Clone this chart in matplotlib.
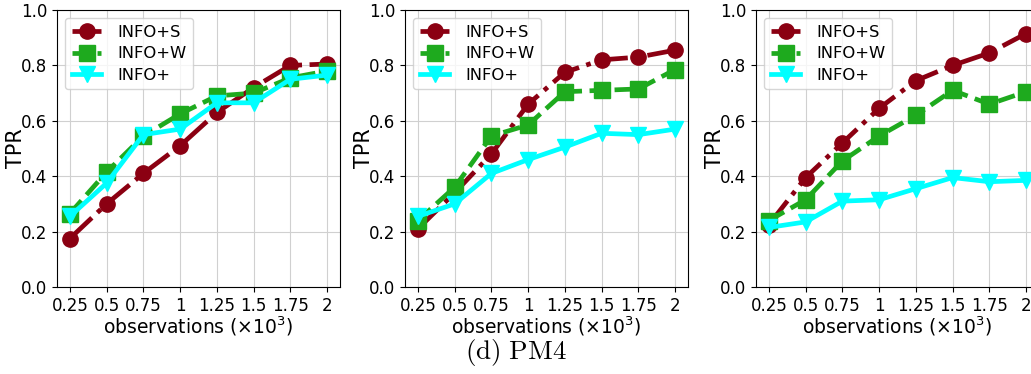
import matplotlib
matplotlib.use("Agg")
import matplotlib.pyplot as plt

# observations (x10^3)
obs = [0.25, 0.5, 0.75, 1, 1.25, 1.5, 1.75, 2]
obs_labels = ['0.25', '0.5', '0.75', '1', '1.25', '1.5', '1.75', '2']

# TPR per panel
info_s_1 = [0.175, 0.30, 0.41, 0.51, 0.63, 0.72, 0.80, 0.805]
info_w_1 = [0.265, 0.415, 0.545, 0.625, 0.69, 0.70, 0.755, 0.78]
info_1 = [0.255, 0.375, 0.55, 0.57, 0.665, 0.665, 0.75, 0.765]

info_s_2 = [0.21, 0.34, 0.48, 0.66, 0.775, 0.82, 0.83, 0.855]
info_w_2 = [0.24, 0.36, 0.545, 0.585, 0.705, 0.71, 0.715, 0.785]
info_2 = [0.255, 0.30, 0.41, 0.46, 0.505, 0.555, 0.55, 0.57]

info_s_3 = [0.225, 0.395, 0.52, 0.645, 0.745, 0.80, 0.845, 0.915]
info_w_3 = [0.24, 0.315, 0.455, 0.545, 0.62, 0.71, 0.66, 0.705]
info_3 = [0.215, 0.235, 0.31, 0.315, 0.355, 0.395, 0.38, 0.385]

paineis = [(info_s_1, info_w_1, info_1),
           (info_s_2, info_w_2, info_2),
           (info_s_3, info_w_3, info_3)]

fig = plt.figure(figsize=(10.31, 3.74), dpi=100)
lefts = [57, 405, 756]
for i, (s, w, p) in enumerate(paineis):
    ax = fig.add_axes([lefts[i] / 1031, 1 - 287 / 374, 283 / 1031, 277 / 374])
    ax.plot(obs, s, color='#8b0012', linestyle='-.', linewidth=3.4,
            marker='o', markersize=11, label='INFO+S')
    ax.plot(obs, w, color='#1eaa1e', linestyle='--', linewidth=3.4,
            marker='s', markersize=11, label='INFO+W')
    ax.plot(obs, p, color='#00ffff', linestyle='-', linewidth=3.4,
            marker='v', markersize=11, label='INFO+')
    ax.set_ylim(0, 1.0)
    ax.set_xticks(obs)
    ax.set_xticklabels(obs_labels)
    ax.set_yticks([0, 0.2, 0.4, 0.6, 0.8, 1.0])
    ax.tick_params(labelsize=12)
    ax.grid(True, color='#d0d0d0', linewidth=0.8)
    ax.set_xlabel(r'observations ($\times 10^3$)', fontsize=13.5, labelpad=0)
    ax.set_ylabel('TPR', fontsize=15, labelpad=-4)
    ax.legend(loc='upper left', fontsize=11.8, numpoints=1, handlelength=1.8,
              labelspacing=0.4, handletextpad=1.0)

fig.text(0.5, 0.058, r'$\mathrm{(d)\ PM4}$', ha='center', va='center',
         fontsize=19.5, math_fontfamily='cm')

fig.savefig('out.png', dpi=100)
